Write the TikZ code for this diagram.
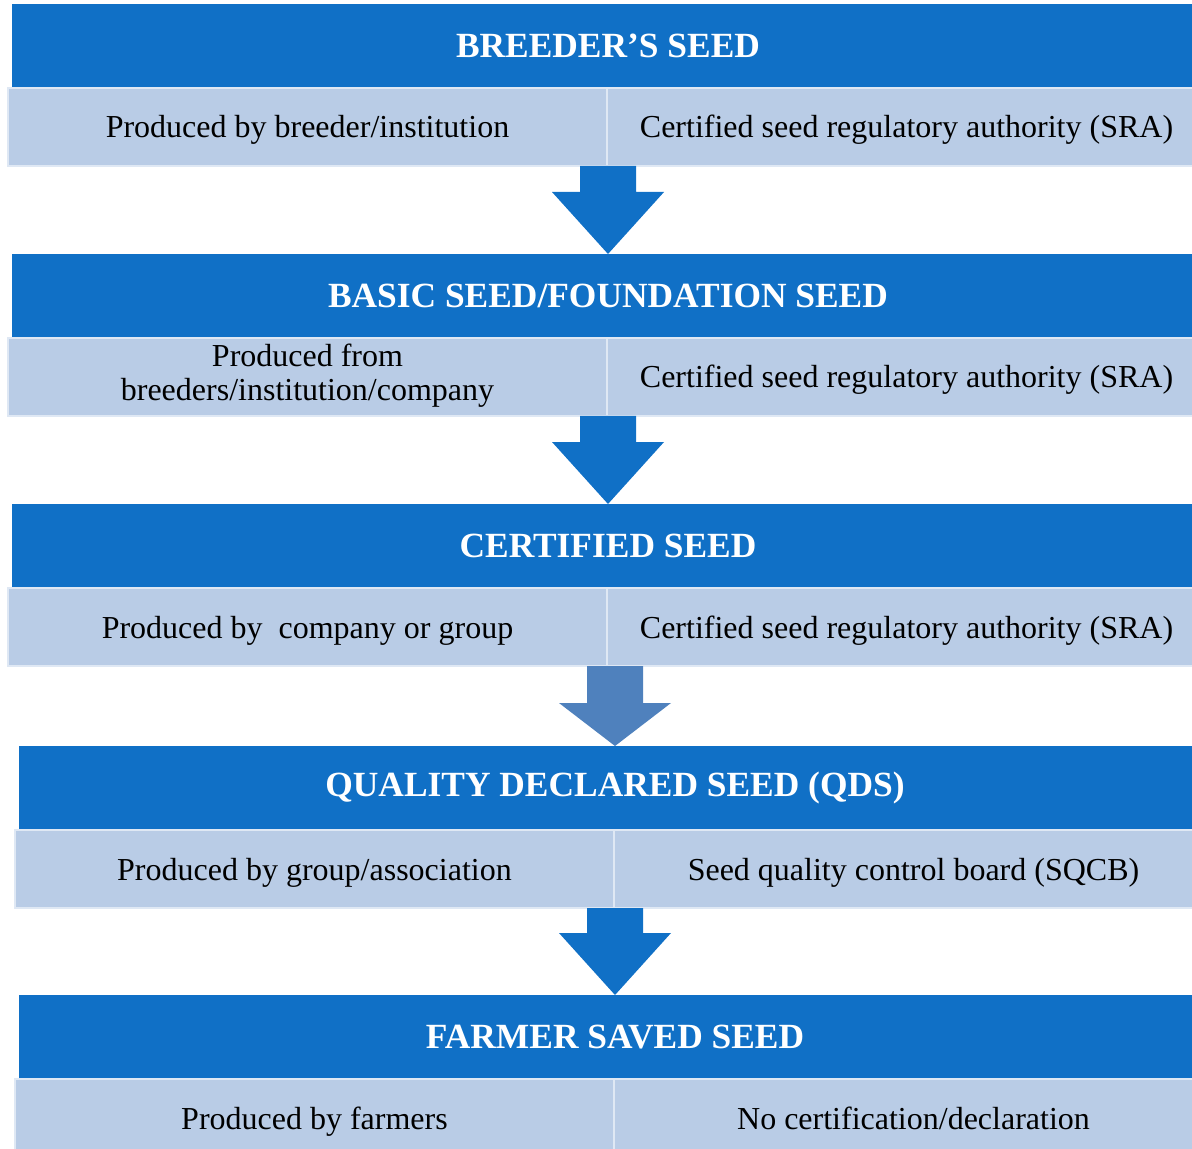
\documentclass[tikz,border=0pt]{standalone}
\usepackage{fontspec}
\setmainfont{Liberation Serif}
\usetikzlibrary{positioning,calc}
\definecolor{hdrblue}{RGB}{16,112,198}
\definecolor{cellblue}{RGB}{185,204,230}
\definecolor{greyblue}{RGB}{79,129,189}
\tikzset{
  hdr/.style={rectangle, fill=hdrblue, text=white, inner sep=0pt, outer sep=0pt,
    minimum width=596pt, minimum height=42pt, anchor=north west,
    font=\fontsize{17.7}{20}\selectfont\bfseries},
  cellbox/.style={rectangle, fill=cellblue, draw=white!55!cellblue, line width=1pt,
    inner sep=0pt, outer sep=0pt, minimum width=299.5pt, minimum height=39pt,
    align=center, font=\fontsize{16}{17}\selectfont,
    execute at begin node={\rule[-5pt]{0pt}{21pt}}},
}
\newcommand{\seedarrow}[4]{%
  \fill[#3] ($(#2.north |- #1.south)+(-14pt,0)$) -- ($(#2.north |- #1.south)+(14pt,0)$)
    -- ($(#2.north)+(14pt,#4)$) -- ($(#2.north)+(28pt,#4)$) -- (#2.north)
    -- ($(#2.north)+(-28pt,#4)$) -- ($(#2.north)+(-14pt,#4)$) -- cycle;}
\begin{document}
\begin{tikzpicture}[x=0.5pt,y=-0.5pt]
  \path[use as bounding box, clip] (0,0) rectangle (1192,1149);
  \node[hdr] (h1) at (12,4) {BREEDER’S SEED};
  \node[cellbox, below right=0pt and -2pt of h1.south west] (l1) {Produced by breeder/institution};
  \node[cellbox, right=0pt of l1] (r1) {Certified seed regulatory authority (SRA)};
  \node[hdr] (h2) at (12,254) {BASIC SEED/FOUNDATION SEED};
  \node[cellbox, below right=0pt and -2pt of h2.south west] (l2) {Produced from\\breeders/institution/company};
  \node[cellbox, right=0pt of l2] (r2) {Certified seed regulatory authority (SRA)};
  \node[hdr] (h3) at (12,504) {CERTIFIED SEED};
  \node[cellbox, below right=0pt and -2pt of h3.south west] (l3) {Produced by\ \ company or group};
  \node[cellbox, right=0pt of l3] (r3) {Certified seed regulatory authority (SRA)};
  \node[hdr] (h4) at (19,746) {QUALITY DECLARED SEED (QDS)};
  \node[cellbox, below right=0pt and -2pt of h4.south west] (l4) {Produced by group/association};
  \node[cellbox, right=0pt of l4] (r4) {Seed quality control board (SQCB)};
  \node[hdr] (h5) at (19,995) {FARMER SAVED SEED};
  \node[cellbox, below right=0pt and -2pt of h5.south west] (l5) {Produced by farmers};
  \node[cellbox, right=0pt of l5] (r5) {No certification/declaration};
  \seedarrow{l1}{h2}{hdrblue}{31pt}
  \seedarrow{l2}{h3}{hdrblue}{31pt}
  \seedarrow{l3}{h4}{greyblue}{21.5pt}
  \seedarrow{l4}{h5}{hdrblue}{31pt}
\end{tikzpicture}
\end{document}
